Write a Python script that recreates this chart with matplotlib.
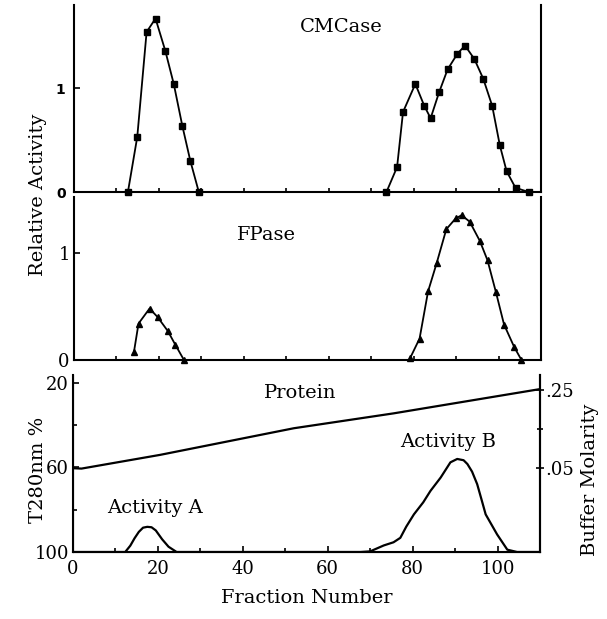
import numpy as np
import matplotlib
matplotlib.use("Agg")
import matplotlib.pyplot as plt

plt.rcParams['font.family'] = ['DejaVu Serif']

# ---- data ----
# CMCase, peak A and peak B
cmA_x = [12.7, 14.9, 17.1, 19.2, 21.5, 23.5, 25.5, 27.4, 29.4]
cmA_y = [0.0, 0.53, 1.54, 1.67, 1.36, 1.04, 0.64, 0.30, 0.0]
cmB_x = [73.6, 76.1, 77.5, 80.4, 82.5, 84.0, 86.0, 88.0, 90.3, 92.1,
         94.3, 96.4, 98.5, 100.3, 101.9, 104.0, 107.1]
cmB_y = [0.0, 0.24, 0.77, 1.04, 0.83, 0.71, 0.96, 1.18, 1.33, 1.41,
         1.28, 1.09, 0.83, 0.45, 0.20, 0.04, 0.0]

# FPase, peak A and peak B
fpA_x = [14.1, 15.2, 17.8, 19.7, 22.1, 23.9, 25.9]
fpA_y = [0.07, 0.34, 0.48, 0.40, 0.27, 0.14, 0.0]
fpB_x = [79.2, 81.4, 83.4, 85.4, 87.7, 89.9, 91.3, 93.2, 95.6, 97.4,
         99.4, 101.3, 103.7, 105.4]
fpB_y = [0.02, 0.20, 0.64, 0.90, 1.22, 1.32, 1.35, 1.29, 1.11, 0.93,
         0.63, 0.33, 0.12, 0.0]

# Protein (T280nm %)
prot_x = [0, 12.3, 13.5, 14.5, 15.5, 16.5, 17.5, 18.5, 19.5, 21.0, 22.5, 24.4,
          67.7, 70.0, 73.2, 75.5, 77.1, 78.5, 80.3, 82.5, 84.2, 86.6, 88.9, 90.5,
          92.0, 92.9, 94.0, 95.2, 96.2, 97.2, 99.9, 102.3, 104.6, 110]
prot_t = [100, 100, 97.0, 93.5, 90.5, 88.5, 88.1, 88.3, 89.8, 94.0, 97.5, 100,
          100, 99.7, 96.9, 95.4, 93.3, 88.0, 82.2, 76.5, 71.1, 64.8, 57.6, 56.0,
          56.6, 58.4, 62.0, 67.9, 75.0, 82.2, 91.7, 98.9, 100, 100]

# Buffer molarity gradient
grad_x = [0, 2, 20.5, 52, 75.5, 110]
grad_m = [0.050, 0.049, 0.084, 0.152, 0.190, 0.252]

x_ticks = [0, 20, 40, 60, 80, 100]
x_minor = [10, 20, 30, 40, 50, 60, 70, 80, 90, 100]

W, H = 607, 619
fig = plt.figure(figsize=(W / 100, H / 100), dpi=100)

def fr(l, t, r, b):
    return [l / W, 1 - b / H, (r - l) / W, (b - t) / H]

lw = 1.3
ax1 = fig.add_axes(fr(74, 5, 541, 192))
ax2 = fig.add_axes(fr(74, 197, 541, 360))
ax3 = fig.add_axes(fr(73, 375, 540, 552))

for ax in (ax1, ax2, ax3):
    ax.set_xlim(0, 110)
    ax.spines['top'].set_visible(False)
    for s in ('left', 'bottom', 'right'):
        ax.spines[s].set_linewidth(1.5)
    ax.tick_params(direction='in', length=4, width=1.2, labelsize=13)

# top panel
for xs, ys in ((cmA_x, cmA_y), (cmB_x, cmB_y)):
    ax1.plot(xs, ys, '-', color='black', lw=lw, marker='s', ms=5, clip_on=False)
ax1.set_ylim(0, 1.8)
ax1.set_yticks([0, 1])
ax1.set_yticklabels(['0', '1'], fontweight='bold', family='DejaVu Sans', fontsize=10)
ax1.set_xticks(x_minor)
ax1.set_xticklabels([])
ax1.tick_params(axis='x', length=3)
ax1.tick_params(axis='y', pad=6)
ax1.text(63, 1.59, 'CMCase', ha='center', va='center', fontsize=14)

# middle panel
for xs, ys in ((fpA_x, fpA_y), (fpB_x, fpB_y)):
    ax2.plot(xs, ys, '-', color='black', lw=lw, marker='^', ms=4.5, clip_on=False)
ax2.set_ylim(0, 1.52)
ax2.set_yticks([0, 1])
ax2.set_xticks(x_minor)
ax2.set_xticklabels([])
ax2.tick_params(axis='x', length=3)
ax2.tick_params(axis='y', pad=3)
ax2.text(45.3, 1.17, 'FPase', ha='center', va='center', fontsize=14)

# bottom panel
ax3.plot(prot_x, prot_t, '-', color='black', lw=1.6)
ax3.set_ylim(100, 16.3)
ax3.set_yticks([20, 60, 100])
ax3.set_yticks([40, 80], minor=True)
ax3.set_xticks(x_ticks)
ax3.set_xticks(x_minor, minor=True)
ax3.tick_params(which='minor', direction='in', length=3, width=1.2)
ax3.tick_params(axis='y', pad=3)
ax3.tick_params(axis='x', pad=6)
ax3.text(53.5, 24.9, 'Protein', ha='center', va='center', fontsize=14)
ax3.text(88.4, 48.2, 'Activity B', ha='center', va='center', fontsize=14)
ax3.text(19.3, 79.2, 'Activity A', ha='center', va='center', fontsize=14)
ax3.set_xlabel('Fraction Number', fontsize=14, labelpad=8)

ax4 = ax3.twinx()
ax4.set_xlim(0, 110)
ax4.plot(grad_x, grad_m, '-', color='black', lw=1.6)
ax4.set_ylim(-0.164, 0.288)
ax4.set_yticks([0.05, 0.25])
ax4.set_yticklabels(['.05', '.25'])
ax4.set_yticks([0.15], minor=True)
ax4.spines['top'].set_visible(False)
ax4.spines['right'].set_linewidth(1.5)
ax4.tick_params(direction='inout', length=6, width=1.2, labelsize=13, pad=1)
ax4.tick_params(which='minor', direction='inout', length=5, width=1.2)

fig.text(38 / W, 1 - 195 / H, 'Relative Activity', rotation=90,
         ha='center', va='center', fontsize=14)
fig.text(38 / W, 1 - 470 / H, 'T280nm %', rotation=90,
         ha='center', va='center', fontsize=14)
fig.text(590 / W, 1 - 480 / H, 'Buffer Molarity', rotation=90,
         ha='center', va='center', fontsize=14)

fig.savefig('out.png', dpi=100)
